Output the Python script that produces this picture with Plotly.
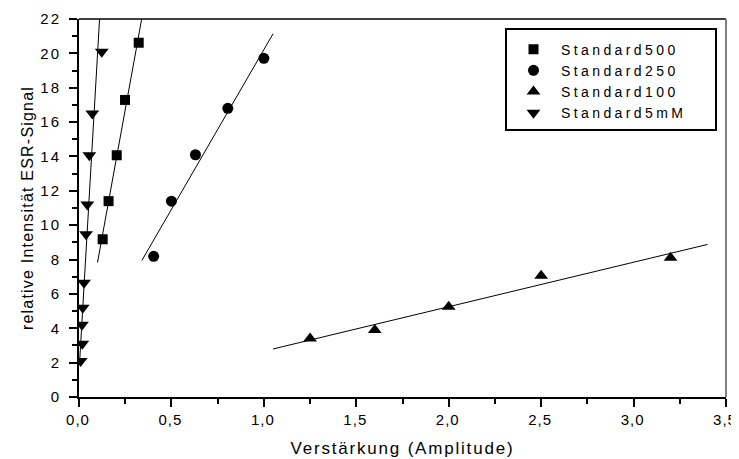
import numpy as np
import plotly.graph_objects as go

# ---- data ----
x500 = [0.128, 0.160, 0.204, 0.249, 0.323]
y500 = [9.18, 11.40, 14.07, 17.29, 20.62]

x250 = [0.404, 0.500, 0.630, 0.805, 1.000]
y250 = [8.19, 11.40, 14.10, 16.80, 19.71]

x100 = [1.25, 1.60, 2.00, 2.50, 3.20]
y100 = [3.40, 3.90, 5.25, 7.05, 8.10]

x5mM = [0.009, 0.018, 0.016, 0.020, 0.027, 0.038, 0.045, 0.056, 0.072, 0.123]
y5mM = [2.10, 3.10, 4.20, 5.20, 6.65, 9.47, 11.20, 14.07, 16.50, 20.10]

names = ["Standard500", "Standard250", "Standard100", "Standard5mM"]

# range of each fitted line
fit500 = [0.10, 0.40]
fit250 = [0.34, 1.05]
fit100 = [1.05, 3.40]
fit5mM_y = [1.9, 22.5]   # 5mM line drawn as x = f(y)

xtick_vals = [0, 0.5, 1.0, 1.5, 2.0, 2.5, 3.0, 3.5]
xtick_text = ["0,0", "0,5", "1,0", "1,5", "2,0", "2,5", "3,0", "3,5"]
ytick_vals = [0, 2, 4, 6, 8, 10, 12, 14, 16, 18, 20, 22]
ytick_text = [str(v) for v in ytick_vals]

FONT = "Liberation Sans, Arial, sans-serif"

# the page body has an 8px default margin; compensate so the plot area
# lands at x 79..726, y 19..397 in the 739x459 window
W, H = 739, 451
ML, MR, MT, MB = 71, 21, 11, 62


def spaced(t, px=1.5):
    return '<span style="letter-spacing:%spx">%s</span>' % (px, t)


fig = go.Figure()

line_style = dict(color="black", width=1)

for xs, ys, rng in [(x500, y500, fit500), (x250, y250, fit250), (x100, y100, fit100)]:
    a, b = np.polyfit(xs, ys, 1)
    xx = np.linspace(rng[0], rng[1], 50)
    fig.add_trace(go.Scatter(x=xx, y=a * xx + b, mode="lines", line=line_style,
                             showlegend=False, hoverinfo="skip"))

a5, b5 = np.polyfit(y5mM, x5mM, 1)
yy = np.linspace(fit5mM_y[0], fit5mM_y[1], 50)
fig.add_trace(go.Scatter(x=a5 * yy + b5, y=yy, mode="lines", line=line_style,
                         showlegend=False, hoverinfo="skip"))

symbols = ["square", "circle", "triangle-up", "triangle-down"]
sizes = [10, 11, 12, 12]
for xs, ys, nm, sym, sz in zip([x500, x250, x100, x5mM], [y500, y250, y100, y5mM],
                               names, symbols, sizes):
    fig.add_trace(go.Scatter(x=xs, y=ys, mode="markers", name=spaced(nm, 3.4),
                             marker=dict(symbol=sym, size=sz, color="black",
                                         line=dict(width=0))))

pw, ph = W - ML - MR, H - MT - MB
box = dict(x0=(506 - 79) / pw, x1=(716 - 79) / pw,
           y0=(397 - 130) / ph, y1=(397 - 29) / ph)

fig.update_layout(
    width=W, height=H,
    margin=dict(l=ML, r=MR, t=MT, b=MB),
    paper_bgcolor="white", plot_bgcolor="white",
    font=dict(family=FONT, size=15, color="black"),
    legend=dict(x=box["x0"], y=box["y1"] - 0.012, xanchor="left", yanchor="top",
                borderwidth=0, bgcolor="rgba(0,0,0,0)",
                font=dict(size=14), tracegroupgap=0, itemwidth=45),
    xaxis=dict(range=[0, 3.5], tickvals=xtick_vals,
               ticktext=[spaced(t, 1.0) for t in xtick_text],
               automargin=False, ticklabeloverflow="allow", ticklabelshift=-1,
               showgrid=False, zeroline=False, showline=True, linecolor="black",
               linewidth=2, ticks="outside", ticklen=8, tickwidth=2, tickcolor="black",
               minor=dict(dtick=0.25, ticks="outside", ticklen=5, tickwidth=2,
                          tickcolor="black", showgrid=False),
               title=dict(text=spaced("Verstärkung (Amplitude)", 1.8), font=dict(size=17),
                          standoff=15),
               tickfont=dict(size=15)),
    yaxis=dict(range=[0, 22], tickvals=ytick_vals,
               ticktext=[spaced(t, 2) for t in ytick_text],
               automargin=False, ticklabeloverflow="allow",
               showgrid=False, zeroline=False, showline=True, linecolor="black",
               linewidth=2, ticks="outside", ticklen=8, tickwidth=2, tickcolor="black",
               ticklabelstandoff=5,
               minor=dict(dtick=1, ticks="outside", ticklen=5, tickwidth=2,
                          tickcolor="black", showgrid=False),
               title=dict(text=spaced("relative Intensität ESR-Signal", 1.2),
                          font=dict(size=16), standoff=3),
               tickfont=dict(size=15)),
    shapes=[
        dict(type="line", xref="paper", yref="paper", x0=0, x1=1, y0=1, y1=1,
             line=dict(color="black", width=1.5)),
        dict(type="line", xref="paper", yref="paper", x0=1, x1=1, y0=0, y1=1,
             line=dict(color="#808080", width=2)),
        dict(type="rect", xref="paper", yref="paper", layer="above",
             x0=box["x0"], x1=box["x1"], y0=box["y0"], y1=box["y1"],
             line=dict(color="black", width=2), fillcolor="rgba(0,0,0,0)"),
    ],
)

fig.write_html("out.html")
